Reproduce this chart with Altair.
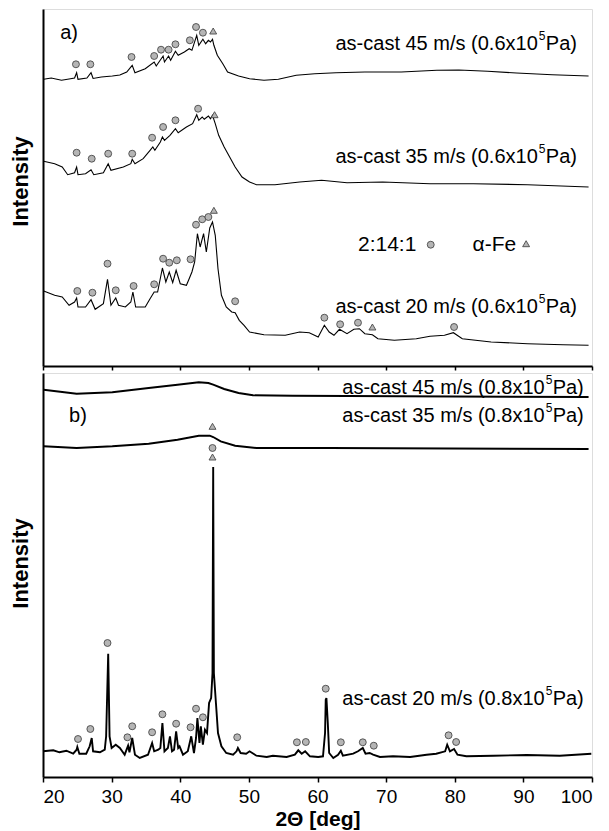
import altair as alt
import pandas as pd

FONT = "Liberation Sans"

# ---------------- Panel a) (0.6x10^5 Pa) ----------------
a45_x = [20.1, 21.2, 22.7, 23.8, 24.6, 24.9, 25.1, 26.4, 27.0, 27.3, 28.5, 30.1, 31.2, 32.2, 33.0, 33.4, 34.9,
         36.2, 36.5, 37.5, 37.7, 38.3, 38.6, 39.3, 39.7, 40.6, 41.3, 41.7, 42.4, 42.7, 43.3, 43.7, 44.1, 44.4,
         44.7, 44.9, 45.4, 46.2, 46.9, 48.5, 50.1, 52.2, 54.3, 56.9, 59.6, 62.7, 66.9, 72.2, 77.4, 80.6, 84.8,
         89.0, 94.2, 99.5]
a45_y = [286.7, 288, 285.7, 287, 288, 293.3, 286.7, 288, 293.3, 287.5, 289, 290, 291, 294, 300.7, 293.3, 297.3,
         304, 300, 310, 304, 310, 305.7, 314.7, 310.7, 314, 317.3, 315.7, 330.7, 320.7, 326.7, 322.3, 325.7, 324,
         326.7, 320.7, 310.7, 302.3, 294, 290, 287.3, 285.7, 286.7, 290.7, 292.3, 293.3, 294, 294, 295.7, 296, 294.7,
         293, 291.3, 290]

a35_x = [20.1, 21.7, 22.8, 23.6, 24.6, 24.9, 25.1, 26.2, 27.0, 27.4, 28.8, 29.5, 29.9, 31.7, 32.8, 33.0, 33.4,
         34.6, 35.6, 36.0, 36.3, 37.1, 37.4, 37.7, 38.5, 39.3, 39.7, 40.9, 41.8, 42.4, 42.7, 43.2, 43.5, 44.1,
         44.4, 44.7, 45.1, 45.6, 46.4, 47.2, 48.0, 49.0, 50.1, 51.1, 53.8, 57.4, 60.6, 64.3, 69.5, 76.4, 82.7,
         90.6, 99.5]
a35_y = [204.7, 202.3, 199, 191.3, 193.3, 199, 191.3, 192.3, 196.3, 191.3, 193.3, 202.3, 195.7, 199, 202.3, 206.7, 202.3,
         207.3, 215.7, 219, 215.7, 224, 229, 225.7, 230.7, 237.3, 233.3, 239, 242.3, 251.3, 245.7, 249, 246.7, 250,
         247.3, 250.7, 242.3, 230.7, 219, 209, 199, 189, 184, 181.3, 181.3, 184, 185.7, 183.3, 184, 182.3, 182.3,
         181.3, 179]

a20_x = [20.1, 21.7, 22.8, 23.8, 24.6, 24.9, 25.1, 26.2, 27.0, 27.6, 28.8, 29.4, 29.9, 30.6, 31.0, 32.0, 32.8,
         33.1, 33.5, 34.9, 35.6, 36.2, 36.7, 37.4, 37.9, 38.4, 38.9, 39.4, 40.0, 40.9, 41.3, 41.7, 42.1, 42.5,
         42.9, 43.4, 43.8, 44.3, 44.7, 45.1, 45.5, 46.0, 46.7, 47.5, 48.0, 48.6, 49.3, 50.1, 52.2, 55.3, 57.4,
         58.8, 60.1, 61.0, 61.7, 62.4, 63.2, 64.3, 65.3, 66.1, 66.9, 68.0, 68.8, 71.2, 74.4, 76.4, 78.5, 79.8,
         81.1, 85.3, 90.6, 95.8, 99.5]
a20_y = [75, 70.7, 69, 60.7, 64, 68, 59, 59, 66.3, 56.7, 62.3, 86.7, 60.7, 68, 60.7, 59, 64,
         74, 59, 59, 67.3, 74, 74, 98, 84, 94, 83.3, 95.7, 82.3, 80.7, 87.3, 94, 104, 132.3,
         119, 132.3, 114, 138, 144, 130.7, 97.3, 70.7, 59, 54, 53.3, 45.7, 40.7, 34, 31.3, 30.7, 34,
         33.3, 29, 40.7, 34, 30.7, 36.7, 32.3, 36.7, 37.3, 32.3, 31.3, 27.3, 25.7, 27.3, 29.7, 30.7, 33.3,
         27.3, 24, 22.3, 21.3, 20.7]

# phase markers, panel a
a_circ_x = [24.8, 26.9, 32.9, 36.2, 37.2, 38.3, 39.3, 41.4, 42.3, 43.3,
            24.9, 27.1, 29.5, 33.0, 35.9, 37.5, 39.3, 42.6,
            25.0, 27.2, 29.4, 30.6, 33.2, 36.2, 37.5, 38.4, 39.5, 41.5, 42.3, 43.2, 44.1, 48.0, 61.0, 63.3, 65.9, 79.9]
a_circ_y = [301.7, 301.7, 309, 310, 316.3, 316.3, 321.7, 325.7, 339, 333.3,
            213.3, 207.3, 212.3, 212.3, 228.3, 239, 245.7, 257.3,
            75, 73.3, 102.3, 75.7, 80, 81.7, 107.3, 103.3, 105.7, 106.7, 141.3, 146.7, 149, 64.7, 48.3, 41.7, 43.3, 39]
a_tri_x = [44.8, 45.0, 44.9, 68.0]
a_tri_y = [335, 251.3, 155.7, 39]

# ---------------- Panel b) (0.8x10^5 Pa) ----------------
b45_x = [20.1, 24.9, 30.1, 35.4, 39.6, 42.7, 44.1, 44.8, 46.4, 48.5, 50.6, 56.4, 72.2, 99.5]
b45_y = [387.3, 383.3, 384.7, 389, 392.3, 394.7, 394, 392.3, 388, 384, 381.7, 381.3, 380.7, 380]

b35_x = [20.1, 24.9, 30.1, 35.4, 39.6, 42.7, 44.3, 44.8, 45.9, 48.0, 51.1, 61.7, 99.5]
b35_y = [330.7, 329, 330.7, 333.3, 337.3, 341.3, 341.3, 340, 335.7, 331.3, 329, 329, 328]

b20_x = [20.0, 21.5, 22.4, 23.4, 24.4, 24.9, 25.0, 25.3, 26.3, 26.8, 27.1, 27.3, 28.3, 29.0, 29.2, 29.5, 29.7,
         30.0, 30.6, 31.2, 31.9, 32.4, 32.6, 33.0, 33.4, 34.1, 35.3, 35.9, 36.2, 36.8, 37.1, 37.4, 37.7, 38.2,
         38.5, 38.8, 39.1, 39.4, 39.7, 39.9, 40.4, 41.1, 41.6, 42.0, 42.3, 42.5, 42.8, 43.0, 43.3, 43.6, 43.9,
         44.2, 44.5, 44.7, 44.8, 44.9, 45.2, 45.5, 46.0, 46.7, 47.7, 48.2, 48.4, 48.8, 49.6, 50.1, 51.1, 52.6,
         53.5, 55.5, 56.7, 57.2, 57.7, 58.2, 58.9, 60.1, 60.8, 61.1, 61.2, 61.3, 61.5, 61.7, 62.3, 63.0, 63.4,
         63.7, 65.2, 65.9, 66.6, 67.0, 67.6, 68.1, 69.1, 71.0, 73.5, 75.9, 77.3, 78.6, 78.9, 79.3, 79.9, 80.4,
         81.7, 85.6, 90.5, 95.3, 99.9]
b20_y = [25.7, 26.7, 24.7, 26.3, 23.3, 27.3, 30, 23.3, 23.3, 30.7, 39, 25.7, 24.7, 27.3, 40.7, 123.3, 40.7,
         29, 32.3, 29, 22.3, 31.3, 24.7, 39, 22.3, 19, 22.3, 34, 25.7, 27.3, 29, 54, 25.7, 29,
         40.7, 25.7, 27.3, 45.7, 29, 30.7, 22.3, 25.7, 40.7, 24, 39, 59, 34, 50.7, 32.3, 47.3, 44,
         74, 79, 104, 310, 104, 74, 44, 30.7, 24, 22.3, 25.7, 29, 24, 23.3, 25.7, 21.3, 20,
         21.3, 20, 22.3, 26.7, 23.3, 25.7, 20.7, 20, 20.7, 44, 77.3, 79, 54, 24, 19, 22.3, 26.3,
         21.3, 23.3, 25.7, 29, 23.3, 24, 22.3, 20, 20.7, 20, 22.3, 23.3, 25.7, 32.3, 25.7, 28, 22.3,
         20.7, 21.3, 22, 21.3, 23.3]

b_circ_x = [44.7, 25.1, 26.9, 29.4, 32.3, 33.0, 35.9, 37.4, 39.4, 41.5, 42.3, 43.3, 48.3,
            57.0, 58.3, 61.2, 63.4, 66.6, 68.2, 79.1, 80.2]
b_circ_y = [329, 38, 48, 134, 39.7, 50.7, 44.7, 62.7, 53.3, 49.7, 68.3, 59.7, 39.7,
            34.7, 35, 88.3, 34.7, 34.7, 31.3, 41.7, 35]
b_tri_x = [44.7, 44.7]
b_tri_y = [350.7, 320]

# ---------------- annotations ----------------
a_lab_text = ["as-cast 45 m/s (0.6x10", "as-cast 35 m/s (0.6x10", "as-cast 20 m/s (0.6x10"]
a_lab_y = [322.3, 209, 59]
a_lab_x = 92.1
b_lab_text = ["as-cast 45 m/s (0.8x10", "as-cast 35 m/s (0.8x10", "as-cast 20 m/s (0.8x10"]
b_lab_y = [389, 360.7, 78]
b_lab_x = 93.1

A_H, B_H, W = 357, 404, 549


def trace_df(pairs):
    rows = []
    for name, xs, ys in pairs:
        for x, y in zip(xs, ys):
            rows.append({"series": name, "deg": x, "I": y})
    return pd.DataFrame(rows)


def build_panel(traces, cx, cy, tx, ty, labels, lab_x, lab_y, ymax, bottom, stroke_w, title_y):
    xs = alt.Scale(domain=[20, 100], nice=False, zero=False)
    ys = alt.Scale(domain=[0, ymax], nice=False, zero=False)
    if bottom:
        xaxis = alt.Axis(values=list(range(20, 101, 5)), labelExpr="datum.value % 10 == 0 ? datum.label : ''",
                         tickSize=5, tickWidth=1.5, tickColor="black",
                         domain=True, domainColor="black", domainWidth=2, grid=False,
                         labelFontSize=19, labelFont=FONT, labelColor="black", labelPadding=5,
                         title="2Θ [deg]", titleFont=FONT, titleFontSize=21, titleFontWeight="bold",
                         titleColor="black", titlePadding=2)
    else:
        xaxis = alt.Axis(values=list(range(20, 101, 5)), labels=False, tickSize=4, tickWidth=1.5,
                         tickColor="black", domain=True, domainColor="black", domainWidth=2,
                         grid=False, title=None)
    yaxis = alt.Axis(labels=False, ticks=False, domain=True, domainColor="black", domainWidth=2,
                     grid=False, title="Intensity",
                     titleFont=FONT, titleFontSize=22, titleFontWeight="bold", titleColor="black",
                     titlePadding=11, titleY=title_y)
    X = alt.X("deg:Q", scale=xs, axis=xaxis)
    Y = alt.Y("I:Q", scale=ys, axis=yaxis)
    Xn = alt.X("deg:Q", scale=xs)
    Yn = alt.Y("I:Q", scale=ys)

    lines = alt.Chart(trace_df(traces)).mark_line(color="black", strokeWidth=stroke_w).encode(
        x=X, y=Y, detail="series:N")
    circ = alt.Chart(pd.DataFrame({"deg": cx, "I": cy})).mark_point(
        shape="circle", filled=True, fill="#b5b5b5", stroke="#4a4a4a", strokeWidth=0.9, size=48, opacity=1
    ).encode(x=Xn, y=Yn)
    tri = alt.Chart(pd.DataFrame({"deg": tx, "I": ty})).mark_point(
        shape="triangle-up", filled=True, fill="#b5b5b5", stroke="#4a4a4a", strokeWidth=0.9, size=48, opacity=1
    ).encode(x=Xn, y=Yn)
    ldf = pd.DataFrame({"t": labels, "deg": [lab_x] * len(labels), "I": lab_y})
    main = alt.Chart(ldf).mark_text(align="right", baseline="middle", font=FONT, fontSize=20, color="black").encode(
        x=Xn, y=Yn, text="t:N")
    sup = alt.Chart(ldf).mark_text(align="left", baseline="middle", font=FONT, fontSize=12, color="black",
                                   dx=1, dy=-8).encode(x=Xn, y=Yn, text=alt.value("5"))
    tail = alt.Chart(ldf).mark_text(align="left", baseline="middle", font=FONT, fontSize=20, color="black",
                                    dx=8).encode(x=Xn, y=Yn, text=alt.value("Pa)"))
    return lines, circ, tri, main, sup, tail


pa = build_panel([("45", a45_x, a45_y), ("35", a35_x, a35_y), ("20", a20_x, a20_y)],
                 a_circ_x, a_circ_y, a_tri_x, a_tri_y, a_lab_text, a_lab_x, a_lab_y, A_H, False, 1.1, 172)
pb = build_panel([("45", b45_x, b45_y), ("35", b35_x, b35_y), ("20", b20_x, b20_y)],
                 b_circ_x, b_circ_y, b_tri_x, b_tri_y, b_lab_text, b_lab_x, b_lab_y, B_H, True, 1.9, 190)

xs_a = alt.Scale(domain=[20, 100], nice=False, zero=False)
ys_a = alt.Scale(domain=[0, A_H], nice=False, zero=False)
ys_b = alt.Scale(domain=[0, B_H], nice=False, zero=False)

# extra text for panel a: tag and legend
a_tag = alt.Chart(pd.DataFrame({"t": ["a)"], "deg": [22.5], "I": [333]})).mark_text(
    align="left", baseline="middle", font=FONT, fontSize=20, color="black").encode(
    x=alt.X("deg:Q", scale=xs_a), y=alt.Y("I:Q", scale=ys_a), text="t:N")
leg_df = pd.DataFrame({"t": ["2:14:1", "α-Fe"], "deg": [65.9, 82.6], "I": [120.7, 120.7]})
leg_txt = alt.Chart(leg_df).mark_text(align="left", baseline="middle", font=FONT, fontSize=21, color="black").encode(
    x=alt.X("deg:Q", scale=xs_a), y=alt.Y("I:Q", scale=ys_a), text="t:N")
leg_c = alt.Chart(pd.DataFrame({"deg": [76.5], "I": [121.3]})).mark_point(
    shape="circle", filled=True, fill="#b5b5b5", stroke="#4a4a4a", strokeWidth=0.9, size=48, opacity=1).encode(
    x=alt.X("deg:Q", scale=xs_a), y=alt.Y("I:Q", scale=ys_a))
leg_t = alt.Chart(pd.DataFrame({"deg": [90.4], "I": [122.3]})).mark_point(
    shape="triangle-up", filled=True, fill="#b5b5b5", stroke="#4a4a4a", strokeWidth=0.9, size=48, opacity=1).encode(
    x=alt.X("deg:Q", scale=xs_a), y=alt.Y("I:Q", scale=ys_a))

b_tag = alt.Chart(pd.DataFrame({"t": ["b)"], "deg": [23.8], "I": [360.7]})).mark_text(
    align="left", baseline="middle", font=FONT, fontSize=20, color="black").encode(
    x=alt.X("deg:Q", scale=xs_a), y=alt.Y("I:Q", scale=ys_b), text="t:N")

panel_a = alt.layer(*pa, a_tag, leg_txt, leg_c, leg_t).properties(width=W, height=A_H)
panel_b = alt.layer(*pb, b_tag).properties(width=W, height=B_H)

chart = alt.vconcat(panel_a, panel_b, spacing=0).properties(
    padding={"left": 0, "top": 0, "right": 0, "bottom": 0}
).configure_view(stroke="#000000", strokeWidth=2.5, strokeOpacity=1).configure(background="white")

chart.save("out.html", embed_options={"renderer": "svg", "actions": False})
